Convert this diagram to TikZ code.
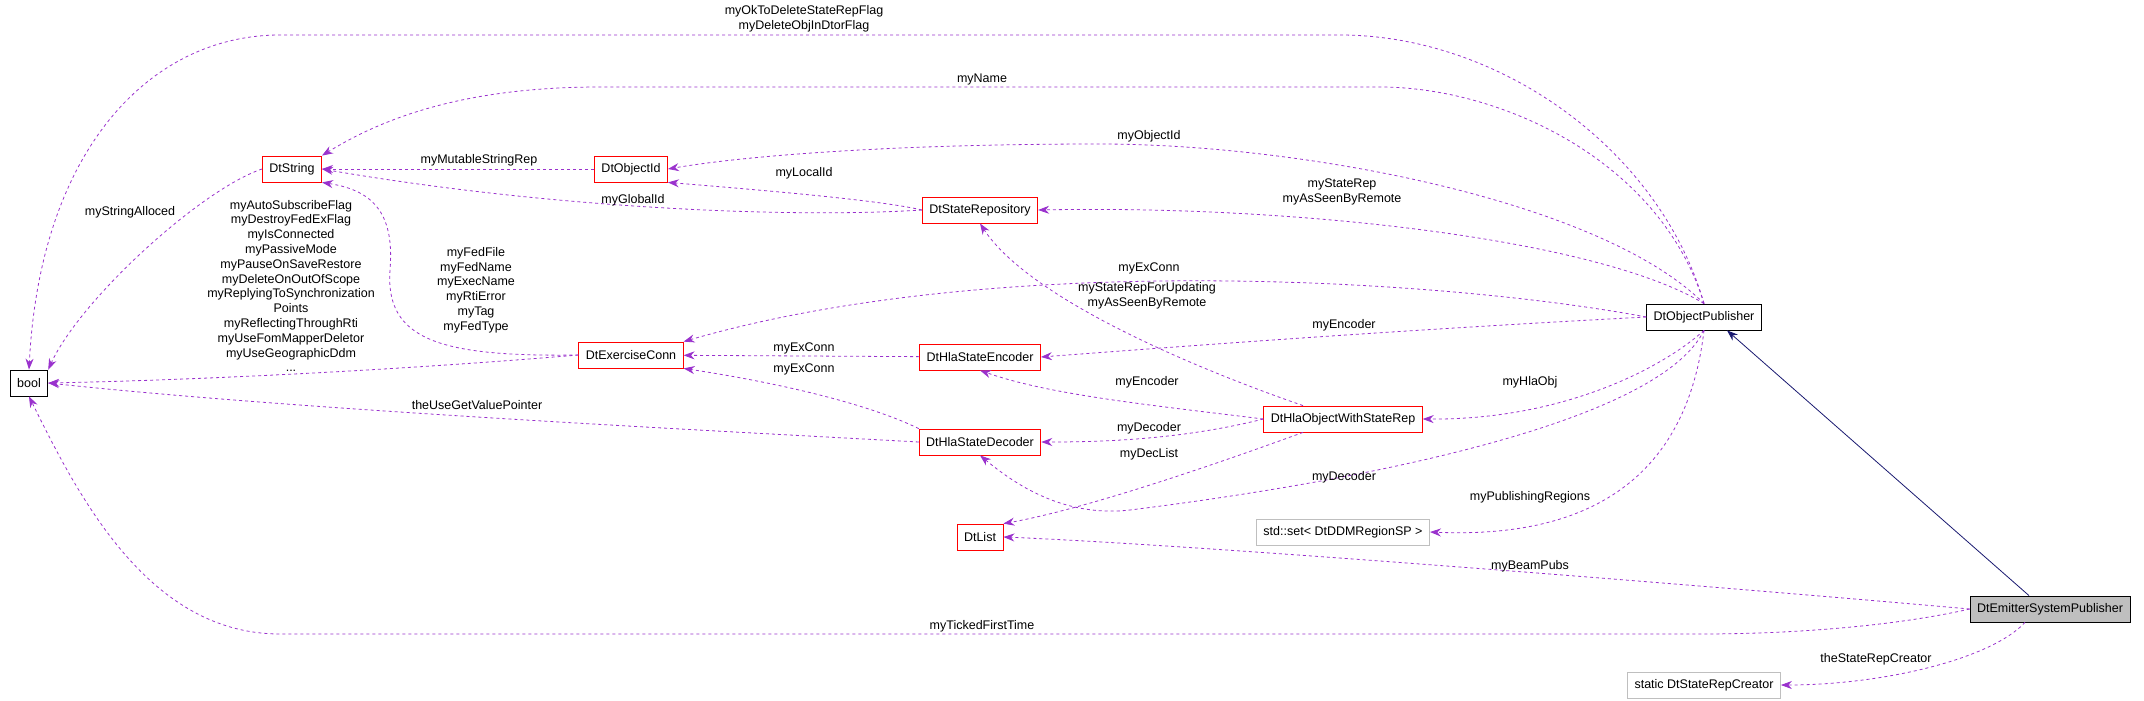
\documentclass[tikz,border=0pt]{standalone}
\usepackage{fontspec}
\setmainfont{Liberation Sans}
\usetikzlibrary{arrows.meta}
\definecolor{edgepurple}{HTML}{9A32CD}
\definecolor{edgenavy}{HTML}{191970}

\begin{document}
\begin{tikzpicture}[x=1pt, y=-1pt, font=\fontsize{12.5}{14.8}\selectfont,
  c/.style={draw=red, thick, fill=white, minimum height=26pt, inner xsep=7pt},
  k/.style={draw=black, thick, fill=white, minimum height=26pt, inner xsep=7pt},
  g/.style={draw=gray!50, thick, fill=white, minimum height=26pt, inner xsep=7pt},
  r/.style={draw=edgepurple, dashed, thick, -{Stealth[length=11pt,width=8pt]}},
  l/.style={align=center, inner sep=1pt}]
	\useasboundingbox (0,0) rectangle (2144,701);

	\node[k] (bool) at (29,383) {bool};
	\node[c] (Str) at (292,169) {DtString};
	\node[c] (Oid) at (631,169) {DtObjectId};
	\node[c] (SRep) at (980,210) {DtStateRepository};
	\node[c] (ExC) at (631,355) {DtExerciseConn};
	\node[c] (Enc) at (980,357) {DtHlaStateEncoder};
	\node[c] (Dec) at (980,442) {DtHlaStateDecoder};
	\node[c] (List) at (980,537) {DtList};
	\node[k] (OPub) at (1704,317) {DtObjectPublisher};
	\node[c] (Hla) at (1343,419) {DtHlaObjectWithStateRep};
	\node[g] (Set) at (1343,532) {std::set< DtDDMRegionSP >};
	\node[k, fill=gray!50] (Emit) at (2050,609) {DtEmitterSystemPublisher};
	\node[g] (Creator) at (1704,685) {static DtStateRepCreator};

	\draw[r] (OPub.north) .. controls (1660,150) and (1500,35) .. (1340,35) -- (280,35) .. controls (150,35) and (40,150) .. (bool.north);
	\node[l] at (804,19) {myOkToDeleteStateRepFlag\\myDeleteObjInDtorFlag};
	\draw[r] (OPub.north) .. controls (1660,160) and (1500,87) .. (1380,87) -- (600,87) .. controls (460,87) and (380,120) .. (Str.north east);
	\node[l] at (982,79) {myName};
	\draw[r] (OPub.north) .. controls (1600,200) and (1300,144) .. (1100,144) .. controls (900,144) and (750,155) .. (Oid.east);
	\node[l] at (1149,136) {myObjectId};
	\draw[r] (OPub.north) .. controls (1600,240) and (1300,205) .. (SRep.east);
	\node[l] at (1342,192) {myStateRep\\myAsSeenByRemote};
	\draw[r] (OPub.west) .. controls (1450,280) and (1000,250) .. (ExC.north east);
	\node[l] at (1149,268) {myExConn};
	\draw[r] (OPub.west) .. controls (1400,330) and (1200,345) .. (Enc.east);
	\node[l] at (1344,325) {myEncoder};
	\draw[r] (OPub.south) .. controls (1660,370) and (1560,420) .. (Hla.east);
	\node[l] at (1530,382) {myHlaObj};
	\draw[r] (OPub.south) .. controls (1650,440) and (1250,495) .. (1130,510) .. controls (1060,518) and (1010,480) .. (Dec.south);
	\node[l] at (1344,477) {myDecoder};
	\draw[r] (OPub.south) .. controls (1690,450) and (1620,540) .. (Set.east);
	\node[l] at (1530,497) {myPublishingRegions};
	\draw[r] (Emit.west) .. controls (1700,585) and (1200,545) .. (List.east);
	\node[l] at (1530,566) {myBeamPubs};
	\draw[r] (Emit.west) .. controls (1900,625) and (1800,634) .. (1700,634) -- (280,634) .. controls (150,634) and (80,500) .. (bool.south);
	\node[l] at (982,626) {myTickedFirstTime};
	\draw[r] ([xshift=-25pt]Emit.south) .. controls (1990,660) and (1880,685) .. (Creator.east);
	\node[l] at (1876,659) {theStateRepCreator};
	\draw[edgenavy, thick, -{Stealth[length=11pt,width=8pt]}] ([xshift=-21pt]Emit.north) -- ([xshift=23pt]OPub.south);

	\draw[r] ([xshift=-40pt]Hla.north) .. controls (1200,370) and (1030,300) .. (SRep.south);
	\node[l] at (1147,296) {myStateRepForUpdating\\myAsSeenByRemote};
	\draw[r] (Hla.west) .. controls (1150,405) and (1050,395) .. (Enc.south);
	\node[l] at (1147,382) {myEncoder};
	\draw[r] (Hla.west) .. controls (1180,440) and (1100,442) .. (Dec.east);
	\node[l] at (1149,428) {myDecoder};
	\draw[r] ([xshift=-40pt]Hla.south) .. controls (1200,470) and (1080,510) .. (List.north east);
	\node[l] at (1149,454) {myDecList};
	\draw[r] (SRep.west) .. controls (880,200) and (760,190) .. (Oid.south east);
	\node[l] at (804,173) {myLocalId};
	\draw[r] (SRep.west) .. controls (800,218) and (560,210) .. (Str.east);
	\node[l] at (633,200) {myGlobalId};
	\draw[r] (Oid) -- (Str);
	\node[l] at (479,160) {myMutableStringRep};
	\draw[r] (Str.west) .. controls (200,190) and (80,300) .. (bool.north east);
	\node[l] at (130,212) {myStringAlloced};
	\draw[r] (ExC.west) .. controls (440,357) and (385,340) .. (390,270) .. controls (395,210) and (370,190) .. (Str.south east);
	\node[l] at (476,290) {myFedFile\\myFedName\\myExecName\\myRtiError\\myTag\\myFedType};
	\draw[r] (ExC.west) .. controls (400,370) and (200,380) .. (bool.east);
	\node[l] at (291,286) {myAutoSubscribeFlag\\myDestroyFedExFlag\\myIsConnected\\myPassiveMode\\myPauseOnSaveRestore\\myDeleteOnOutOfScope\\myReplyingToSynchronization\\Points\\myReflectingThroughRti\\myUseFomMapperDeletor\\myUseGeographicDdm\\...};
	\draw[r] (Enc) -- (ExC);
	\node[l] at (804,348) {myExConn};
	\draw[r] (Dec.north west) .. controls (860,400) and (760,380) .. (ExC.south east);
	\node[l] at (804,369) {myExConn};
	\draw[r] (Dec.west) .. controls (700,430) and (300,410) .. (bool.east);
	\node[l] at (477,405) {theUseGetValuePointer};
\end{tikzpicture}
\end{document}
